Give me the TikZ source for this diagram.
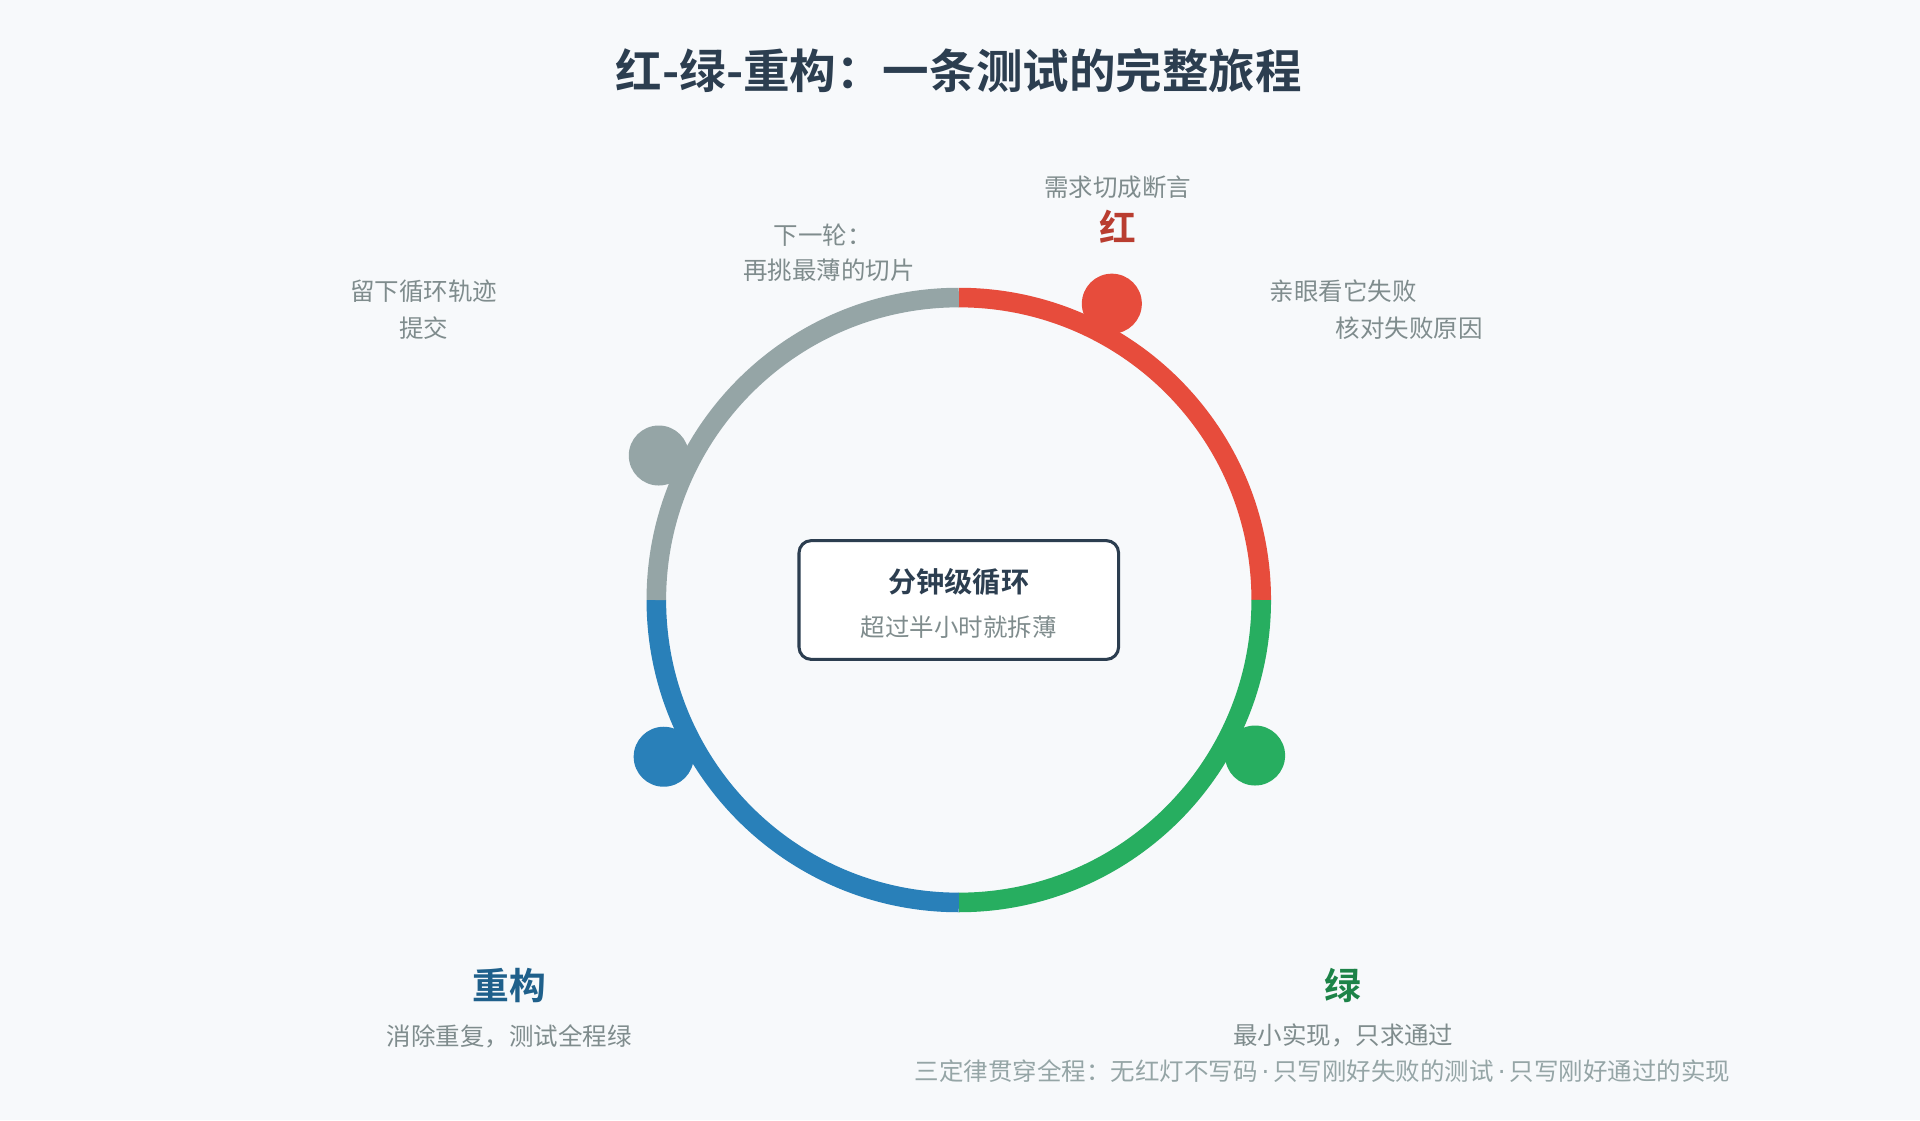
\documentclass[tikz,border=0pt]{standalone}
\usepackage{fontspec}
\setmainfont{Noto Sans CJK SC}
\newfontfamily\cjkb{Noto Sans CJK SC Bold}
\newfontfamily\djv{DejaVu Sans}
\begin{document}
\definecolor{bg}{HTML}{F7F9FB}
\definecolor{dark}{HTML}{2C3E50}
\definecolor{cred}{HTML}{E74C3C}
\definecolor{cgreen}{HTML}{27AE60}
\definecolor{cblue}{HTML}{2980B9}
\definecolor{cgray}{HTML}{95A5A6}
\definecolor{txt}{HTML}{7F8C8D}
\begin{tikzpicture}[x=1pt,y=-1pt,
  note/.style={text=txt,font=\fontsize{20}{24}\selectfont,align=center},
  lab/.style={font=\cjkb\fontsize{30}{34}\selectfont},
  arc/.style={line width=16pt},
  dotn/.style={circle,minimum size=49pt,inner sep=0pt}]
\fill[bg] (0,0) rectangle (1568,915);
\useasboundingbox (0,0) rectangle (1568,915);
\node[text=dark,font=\cjkb\fontsize{38}{42}\selectfont] (title) at (783,58) {红-绿-重构：一条测试的完整旅程};
\draw[arc,cred] (783,243) arc[start angle=-90,end angle=0,x radius=247,y radius=247];
\draw[arc,cgreen] (1030,490) arc[start angle=0,end angle=90,x radius=247,y radius=247];
\draw[arc,cblue] (783,737) arc[start angle=90,end angle=180,x radius=247,y radius=247];
\draw[arc,cgray] (536,490) arc[start angle=180,end angle=270,x radius=247,y radius=247];
\node[dotn,fill=cred] (dr) at (908,248) {};
\node[dotn,fill=cgreen] (dg) at (1025,617) {};
\node[dotn,fill=cblue] (db) at (542,618) {};
\node[dotn,fill=cgray] (dy) at (538,372) {};
\node[draw=dark,line width=2.5pt,rounded corners=10pt,fill=white,minimum width=261pt,minimum height=97pt] (box) at (783,490) {};
\node[text=dark,font=\cjkb\fontsize{23}{27}\selectfont] (bt) at (783,475) {分钟级循环};
\node[note] (bs) at (783,512) {超过半小时就拆薄};
\node[note] (r1) at (913,153) {需求切成断言};
\node[lab,text=cred!80!black] (rl) at (913,185) {红};
\node[note] (r2) at (1097,238) {亲眼看它失败};
\node[note] (r3) at (1151,268) {核对失败原因};
\node[note] (n1) at (672,192) {下一轮：};
\node[note] (n2) at (677,221) {再挑最薄的切片};
\node[note] (g1) at (346,238) {留下循环轨迹};
\node[note] (g2) at (346,268) {提交};
\node[lab,text=cblue!75!black] (bl) at (416,805) {重构};
\node[note] (b1) at (416,846) {消除重复，测试全程绿};
\node[lab,text=cgreen!75!black] (gl) at (1097,805) {绿};
\node[note] (g3) at (1097,846) {最小实现，只求通过};
\node[note,text=cgray] (law) at (1080,875) {三定律贯穿全程：无红灯不写码{\djv\,·\,}只写刚好失败的测试{\djv\,·\,}只写刚好通过的实现};
\end{tikzpicture}
\end{document}
